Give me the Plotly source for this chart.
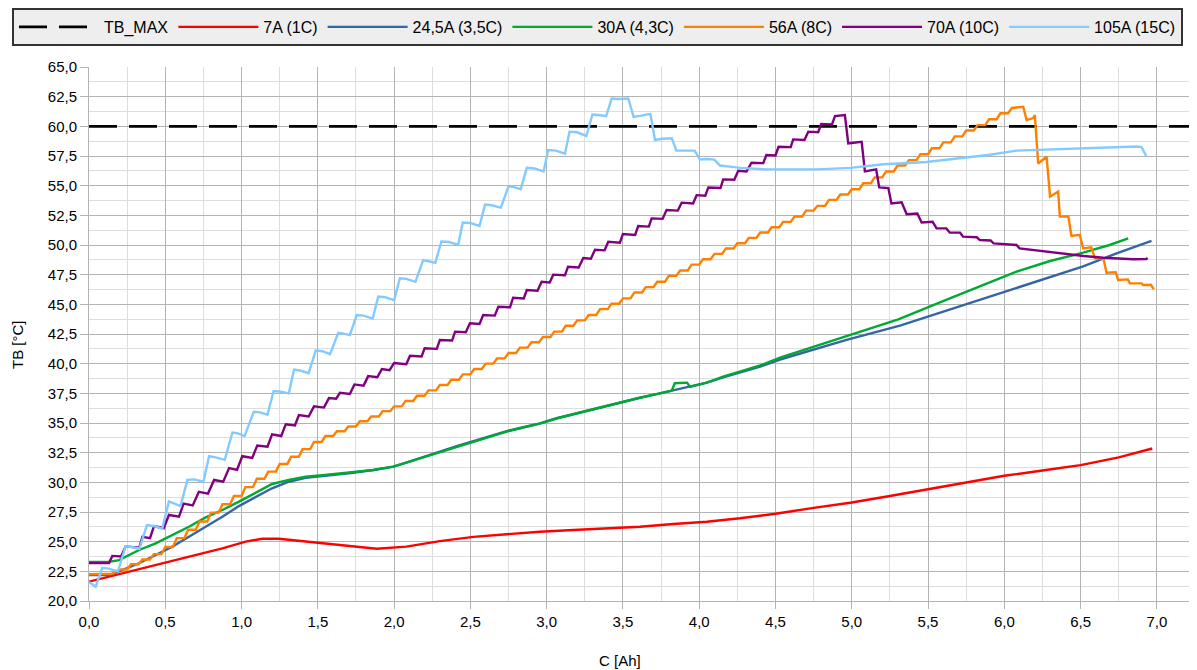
import plotly.graph_objects as go

# ---------------- data ----------------
x_max_line = [0.0, 7.25]
y_max_line = [60.0, 60.0]

x_7A = [0.0, 0.218, 0.437, 0.655, 0.874, 1.027, 1.136, 1.245, 1.42, 1.645, 1.886, 2.08, 2.3, 2.52,
        2.738, 2.956, 3.175, 3.393, 3.611, 3.83, 4.05, 4.267, 4.5, 4.75, 5.0, 5.25, 5.5, 5.75, 6.0,
        6.25, 6.5, 6.75, 6.97]
y_7A = [21.63, 22.33, 23.09, 23.73, 24.44, 25.0, 25.25, 25.25, 25.0, 24.72, 24.4, 24.58, 25.05, 25.4,
        25.63, 25.84, 25.98, 26.12, 26.26, 26.49, 26.68, 26.97, 27.35, 27.85, 28.3, 28.85, 29.4, 29.95,
        30.55, 31.0, 31.45, 32.1, 32.85]

x_24A = [0.0, 0.13, 0.218, 0.328, 0.437, 0.546, 0.655, 0.765, 0.874, 0.983, 1.093, 1.2, 1.31, 1.42,
         1.53, 1.704, 1.864, 1.995, 2.08, 2.19, 2.3, 2.41, 2.52, 2.628, 2.738, 2.847, 2.956, 3.065,
         3.175, 3.284, 3.393, 3.502, 3.611, 3.72, 3.83, 3.94, 4.05, 4.157, 4.267, 4.4, 4.53, 4.747,
         4.966, 5.316, 5.425, 5.643, 5.862, 6.08, 6.3, 6.517, 6.736, 6.965]
y_24A = [22.19, 22.19, 22.6, 23.18, 23.88, 24.58, 25.42, 26.26, 27.1, 28.0, 28.79, 29.5, 30.05, 30.39,
         30.53, 30.76, 31.04, 31.32, 31.66, 32.1, 32.58, 33.06, 33.5, 33.9, 34.32, 34.64, 34.97, 35.4,
         35.76, 36.1, 36.43, 36.8, 37.13, 37.44, 37.75, 38.05, 38.4, 38.85, 39.25, 39.75, 40.35, 41.2,
         42.0, 43.2, 43.65, 44.55, 45.5, 46.4, 47.25, 48.2, 49.3, 50.34]

x_30A = [0.0, 0.13, 0.197, 0.328, 0.437, 0.546, 0.655, 0.765, 0.874, 0.983, 1.093, 1.2, 1.31, 1.42,
         1.53, 1.704, 1.864, 1.995, 2.08, 2.19, 2.3, 2.41, 2.52, 2.628, 2.738, 2.847, 2.956, 3.065,
         3.175, 3.284, 3.393, 3.502, 3.611, 3.72, 3.82, 3.84, 3.92, 3.94, 4.05, 4.157, 4.267, 4.4,
         4.53, 4.747, 4.966, 5.305, 5.643, 5.862, 6.08, 6.3, 6.517, 6.69, 6.812]
y_30A = [23.3, 23.3, 23.45, 24.3, 24.86, 25.56, 26.26, 27.05, 27.67, 28.37, 29.13, 29.86, 30.2, 30.47,
         30.6, 30.8, 31.04, 31.32, 31.66, 32.1, 32.58, 33.0, 33.45, 33.85, 34.28, 34.62, 34.95, 35.38,
         35.74, 36.08, 36.42, 36.8, 37.13, 37.44, 37.72, 38.35, 38.4, 38.05, 38.4, 38.9, 39.32, 39.85,
         40.5, 41.4, 42.35, 43.74, 45.5, 46.6, 47.75, 48.65, 49.35, 50.0, 50.56]

x_56A = [0.0, 0.15,
         0.20, 0.25, 0.275, 0.325, 0.35, 0.40, 0.425, 0.475, 0.50, 0.55, 0.575, 0.625, 0.65, 0.70,
         0.725, 0.775, 0.80, 0.85, 0.875, 0.925, 0.95, 1.00, 1.025, 1.075, 1.10, 1.15, 1.175, 1.225,
         1.25, 1.30, 1.325, 1.375, 1.40, 1.45, 1.475, 1.525, 1.55, 1.60, 1.625, 1.675, 1.70, 1.75,
         1.775, 1.825, 1.85, 1.90, 1.925, 1.975, 2.00, 2.05, 2.075, 2.125, 2.15, 2.20, 2.225, 2.275,
         2.30, 2.35, 2.375, 2.425, 2.45, 2.50, 2.525, 2.575, 2.60, 2.65, 2.675, 2.725, 2.75, 2.80,
         2.825, 2.875, 2.90, 2.95, 2.975, 3.025, 3.05, 3.10, 3.125, 3.175, 3.20, 3.25, 3.275, 3.325,
         3.35, 3.40, 3.425, 3.475, 3.50, 3.55, 3.575, 3.625, 3.65, 3.70, 3.725, 3.775, 3.80, 3.85,
         3.875, 3.925, 3.95, 4.00, 4.025, 4.075, 4.10, 4.15, 4.175, 4.225, 4.25, 4.30, 4.325, 4.375,
         4.40, 4.45, 4.475, 4.525, 4.55, 4.60, 4.625, 4.675, 4.70, 4.75, 4.775, 4.825, 4.85, 4.90,
         4.925, 4.975, 5.00, 5.05, 5.075, 5.125, 5.15, 5.20, 5.225, 5.275, 5.30, 5.35, 5.375, 5.425,
         5.45, 5.50, 5.525, 5.575, 5.60, 5.65, 5.675, 5.725, 5.75, 5.80, 5.825, 5.875, 5.90, 5.95,
         5.975, 6.025, 6.05, 6.124,
         6.146, 6.19, 6.20, 6.222, 6.277, 6.30, 6.353, 6.364, 6.42, 6.44, 6.495, 6.517, 6.57, 6.594,
         6.65, 6.67, 6.73, 6.746, 6.81, 6.823, 6.90, 6.91, 6.96, 6.98]
y_56A = [22.25, 22.3,
         22.65, 22.65, 23.1, 23.1, 23.5, 23.5, 23.95, 23.95, 24.55, 24.55, 25.3, 25.3, 26.0, 26.0,
         26.7, 26.7, 27.45, 27.45, 28.15, 28.15, 28.85, 28.85, 29.6, 29.6, 30.3, 30.3, 30.9, 30.9,
         31.55, 31.55, 32.15, 32.15, 32.8, 32.8, 33.4, 33.4, 33.9, 33.9, 34.3, 34.3, 34.7, 34.7,
         35.15, 35.15, 35.55, 35.55, 36.0, 36.0, 36.4, 36.4, 36.85, 36.85, 37.3, 37.3, 37.75, 37.75,
         38.2, 38.2, 38.65, 38.65, 39.1, 39.1, 39.55, 39.55, 40.0, 40.0, 40.45, 40.45, 40.9, 40.9,
         41.35, 41.35, 41.8, 41.8, 42.25, 42.25, 42.7, 42.7, 43.2, 43.2, 43.65, 43.65, 44.1, 44.1,
         44.6, 44.6, 45.05, 45.05, 45.5, 45.5, 46.0, 46.0, 46.45, 46.45, 46.9, 46.9, 47.4, 47.4,
         47.85, 47.85, 48.35, 48.35, 48.8, 48.8, 49.25, 49.25, 49.7, 49.7, 50.15, 50.15, 50.6, 50.6,
         51.05, 51.05, 51.5, 51.5, 51.95, 51.95, 52.4, 52.4, 52.9, 52.9, 53.3, 53.3, 53.8, 53.8,
         54.25, 54.25, 54.7, 54.7, 55.2, 55.2, 55.7, 55.7, 56.2, 56.2, 56.7, 56.7, 57.15, 57.15,
         57.65, 57.65, 58.15, 58.15, 58.65, 58.65, 59.15, 59.15, 59.65, 59.65, 60.1, 60.1, 60.6, 60.6,
         61.1, 61.1, 61.55, 61.65,
         60.53, 60.7, 60.95, 56.87, 57.44, 54.07, 54.5, 52.39, 52.4, 50.76, 50.85, 49.72, 49.8, 48.88,
         48.85, 47.67, 47.7, 47.05, 47.1, 46.77, 46.77, 46.63, 46.65, 46.27]

x_70A = [0.0, 0.131,
         0.153, 0.21, 0.24, 0.33, 0.35, 0.40, 0.426, 0.49, 0.524, 0.59, 0.62, 0.68, 0.72, 0.78,
         0.82, 0.88, 0.918, 0.97, 1.005, 1.07, 1.103, 1.17, 1.20, 1.26, 1.29, 1.35, 1.376, 1.44,
         1.475, 1.54, 1.573, 1.62, 1.645, 1.71, 1.74, 1.80, 1.83, 1.89, 1.92, 1.97, 2.0, 2.08,
         2.104, 2.18, 2.2, 2.28, 2.3, 2.38, 2.4, 2.47, 2.497, 2.56, 2.584, 2.66, 2.683, 2.76,
         2.78, 2.85, 2.87, 2.94, 2.967, 3.02, 3.043, 3.12, 3.14, 3.21, 3.24, 3.29, 3.317, 3.38,
         3.404, 3.48, 3.5, 3.58, 3.6, 3.67, 3.688, 3.76, 3.786, 3.86, 3.885, 3.96, 3.983, 4.04,
         4.06, 4.14, 4.157, 4.23, 4.256, 4.31, 4.343, 4.42, 4.44, 4.50, 4.52, 4.60, 4.616, 4.69,
         4.715, 4.78, 4.80, 4.87, 4.89, 4.955,
         4.977, 5.065, 5.086, 5.16, 5.18, 5.24, 5.26, 5.327, 5.36, 5.43, 5.458, 5.53, 5.556, 5.62,
         5.643, 5.71, 5.73, 5.82, 5.84, 5.91,
         5.93, 6.08, 6.10, 6.19, 6.30, 6.41, 6.52, 6.65, 6.845, 6.93, 6.94]
y_70A = [23.2, 23.2,
         23.8, 23.75, 24.6, 24.5, 25.4, 25.3, 26.3, 26.15, 27.25, 27.1, 28.2, 28.05, 29.2, 29.05,
         30.2, 30.05, 31.2, 31.05, 32.2, 32.05, 33.1, 33.0, 34.05, 33.9, 34.9, 34.8, 35.67, 35.55,
         36.4, 36.3, 37.1, 37.05, 37.55, 37.45, 38.25, 38.15, 38.95, 38.85, 39.55, 39.45, 40.05, 39.95,
         40.67, 40.6, 41.3, 41.25, 42.0, 41.95, 42.7, 42.65, 43.4, 43.35, 44.1, 44.05, 44.8, 44.75,
         45.56, 45.5, 46.2, 46.15, 46.9, 46.85, 47.5, 47.45, 48.17, 48.1, 48.9, 48.85, 49.6, 49.55,
         50.28, 50.2, 50.93, 50.85, 51.6, 51.55, 52.24, 52.2, 52.95, 52.9, 53.57, 53.5, 54.2, 54.15,
         54.85, 54.8, 55.53, 55.5, 56.26, 56.2, 56.93, 56.9, 57.58, 57.55, 58.28, 58.25, 58.9, 58.85,
         59.55, 59.5, 60.2, 60.15, 60.87, 60.95,
         58.57, 58.7, 56.2, 56.37, 54.85, 54.8, 53.5, 53.6, 52.6, 52.65, 51.9, 51.95, 51.4, 51.4,
         51.04, 51.04, 50.7, 50.65, 50.42, 50.38,
         50.14, 50.0, 49.72, 49.58, 49.43, 49.24, 49.07, 48.93, 48.8, 48.82, 48.9]

x_105A = [0.0, 0.044, 0.087, 0.12, 0.19,
          0.24, 0.28, 0.33, 0.38, 0.43, 0.48, 0.524, 0.56, 0.60, 0.645, 0.69, 0.75,
          0.787, 0.83, 0.89, 0.94, 0.97, 1.02, 1.08, 1.12, 1.17, 1.21, 1.25, 1.31,
          1.344, 1.39, 1.44, 1.486, 1.53, 1.58, 1.634, 1.66, 1.71, 1.755, 1.80, 1.86,
          1.896, 1.94, 2.0, 2.038, 2.08, 2.14, 2.19, 2.22, 2.27, 2.31, 2.36, 2.42,
          2.45, 2.50, 2.56, 2.596, 2.64, 2.70, 2.75, 2.78, 2.83, 2.87, 2.92, 2.98,
          3.01, 3.06, 3.12, 3.15, 3.20, 3.26, 3.30, 3.34, 3.39, 3.426, 3.47, 3.535,
          3.57, 3.62, 3.68, 3.71, 3.76, 3.82, 3.85, 3.90, 3.97, 4.005, 4.05, 4.10,
          4.136, 4.20, 4.27, 4.44, 4.77, 4.99, 5.21, 5.49, 5.64, 5.906, 6.08, 6.515,
          6.867, 6.90, 6.93]
y_105A = [21.6, 21.2, 22.8, 22.75, 22.5,
          24.6, 24.55, 24.4, 26.4, 26.3, 26.1, 28.4, 28.2, 28.0, 30.2, 30.25, 30.05,
          32.2, 32.1, 31.9, 34.2, 34.15, 33.9, 35.95, 35.9, 35.7, 37.7, 37.65, 37.5,
          39.5, 39.4, 39.2, 41.1, 41.05, 40.8, 42.6, 42.55, 42.4, 44.1, 44.05, 43.8,
          45.65, 45.6, 45.35, 47.2, 47.15, 46.9, 48.7, 48.65, 48.5, 50.3, 50.25, 50.0,
          51.9, 51.85, 51.6, 53.4, 53.35, 53.15, 54.95, 54.9, 54.7, 56.5, 56.45, 56.2,
          58.0, 57.95, 57.7, 59.55, 59.5, 59.2, 61.0, 60.95, 60.85, 62.35, 62.3, 62.35,
          60.8, 60.9, 61.05, 58.85, 58.95, 59.0, 57.95, 57.95, 57.95, 57.2, 57.25, 57.2,
          56.7, 56.6, 56.5, 56.37, 56.37, 56.5, 56.8, 57.0, 57.2, 57.6, 57.95, 58.15,
          58.3, 58.25, 57.5]

series_names = ["TB_MAX", "7A (1C)", "24,5A (3,5C)", "30A (4,3C)", "56A (8C)", "70A (10C)", "105A (15C)"]
series_x = [x_max_line, x_7A, x_24A, x_30A, x_56A, x_70A, x_105A]
series_y = [y_max_line, y_7A, y_24A, y_30A, y_56A, y_70A, y_105A]
series_colors = ["#000000", "#ff0000", "#3465a4", "#00a933", "#ff8000", "#800080", "#83caff"]

x_ticks = [0.0, 0.5, 1.0, 1.5, 2.0, 2.5, 3.0, 3.5, 4.0, 4.5, 5.0, 5.5, 6.0, 6.5, 7.0]
y_ticks = [20.0, 22.5, 25.0, 27.5, 30.0, 32.5, 35.0, 37.5, 40.0, 42.5, 45.0, 47.5, 50.0, 52.5, 55.0,
           57.5, 60.0, 62.5, 65.0]

for xs, ys in zip(series_x, series_y):
    assert len(xs) == len(ys), (len(xs), len(ys))

# ---------------- figure ----------------
# the page body adds an 8px margin, so the figure is 8px smaller than the window
W, H = 1189, 662
L, R, T, B = 81, 2, 59, 69
PW, PH = W - L - R, H - T - B

FONT = "Liberation Sans, Arial, sans-serif"
fig = go.Figure()
for name, xs, ys, col in zip(series_names, series_x, series_y, series_colors):
    dash = "28px,12px" if name == "TB_MAX" else "solid"
    width = 2.6 if name == "TB_MAX" else 2.4
    fig.add_trace(go.Scatter(x=xs, y=ys, name=name, mode="lines",
                             line=dict(color=col, width=width, dash=dash),
                             hoverinfo="skip"))

MAJOR = "#b3b3b3"
MINOR = "#dedede"
fig.update_layout(
    width=W, height=H,
    margin=dict(l=L, r=R, t=T, b=B, autoexpand=False),
    paper_bgcolor="white", plot_bgcolor="white",
    separators=", ",
    font=dict(family=FONT, size=15, color="#000000"),
    showlegend=True,
    legend=dict(orientation="h", xref="paper", yref="paper",
                x=(4 - L) / PW, y=(H - B - 0) / PH, xanchor="left", yanchor="top",
                bgcolor="#eeeeee", bordercolor="#333333", borderwidth=2,
                font=dict(family=FONT, size=16, color="#000000"),
                itemwidth=80, tracegroupgap=0, itemclick=False),
    xaxis=dict(range=[0, 7.25], tickmode="array", tickvals=x_ticks, tickformat=".1f",
               showgrid=True, gridcolor=MAJOR, gridwidth=1,
               showline=True, linecolor=MAJOR, linewidth=1,
               ticks="outside", ticklen=7, tickcolor=MAJOR, tickwidth=1,
               zeroline=False, automargin=False,
               tickfont=dict(family=FONT, size=15, color="#000000"),
               minor=dict(dtick=0.25, tick0=0, showgrid=True, gridcolor=MINOR, gridwidth=1, ticks="")),
    yaxis=dict(range=[20, 65], tickmode="array", tickvals=y_ticks, tickformat=".1f",
               showgrid=True, gridcolor=MAJOR, gridwidth=1,
               showline=True, linecolor=MAJOR, linewidth=1,
               ticks="outside", ticklen=8, tickcolor=MAJOR, tickwidth=1,
               zeroline=False, automargin=False,
               tickfont=dict(family=FONT, size=15, color="#000000"),
               minor=dict(dtick=1.25, tick0=20, showgrid=True, gridcolor=MINOR, gridwidth=1, ticks="")),
    annotations=[
        dict(text="C [Ah]", xref="paper", yref="paper", x=(612 - L) / PW, y=(H - B - 652) / PH,
             xanchor="center", yanchor="middle", showarrow=False,
             font=dict(family=FONT, size=15, color="#000000")),
        dict(text="TB [°C]", xref="paper", yref="paper", x=(10 - L) / PW, y=(H - B - 337) / PH,
             xanchor="center", yanchor="middle", showarrow=False, textangle=-90,
             font=dict(family=FONT, size=15, color="#000000")),
    ],
)

fig.write_html("out.html", config={"displayModeBar": False})
